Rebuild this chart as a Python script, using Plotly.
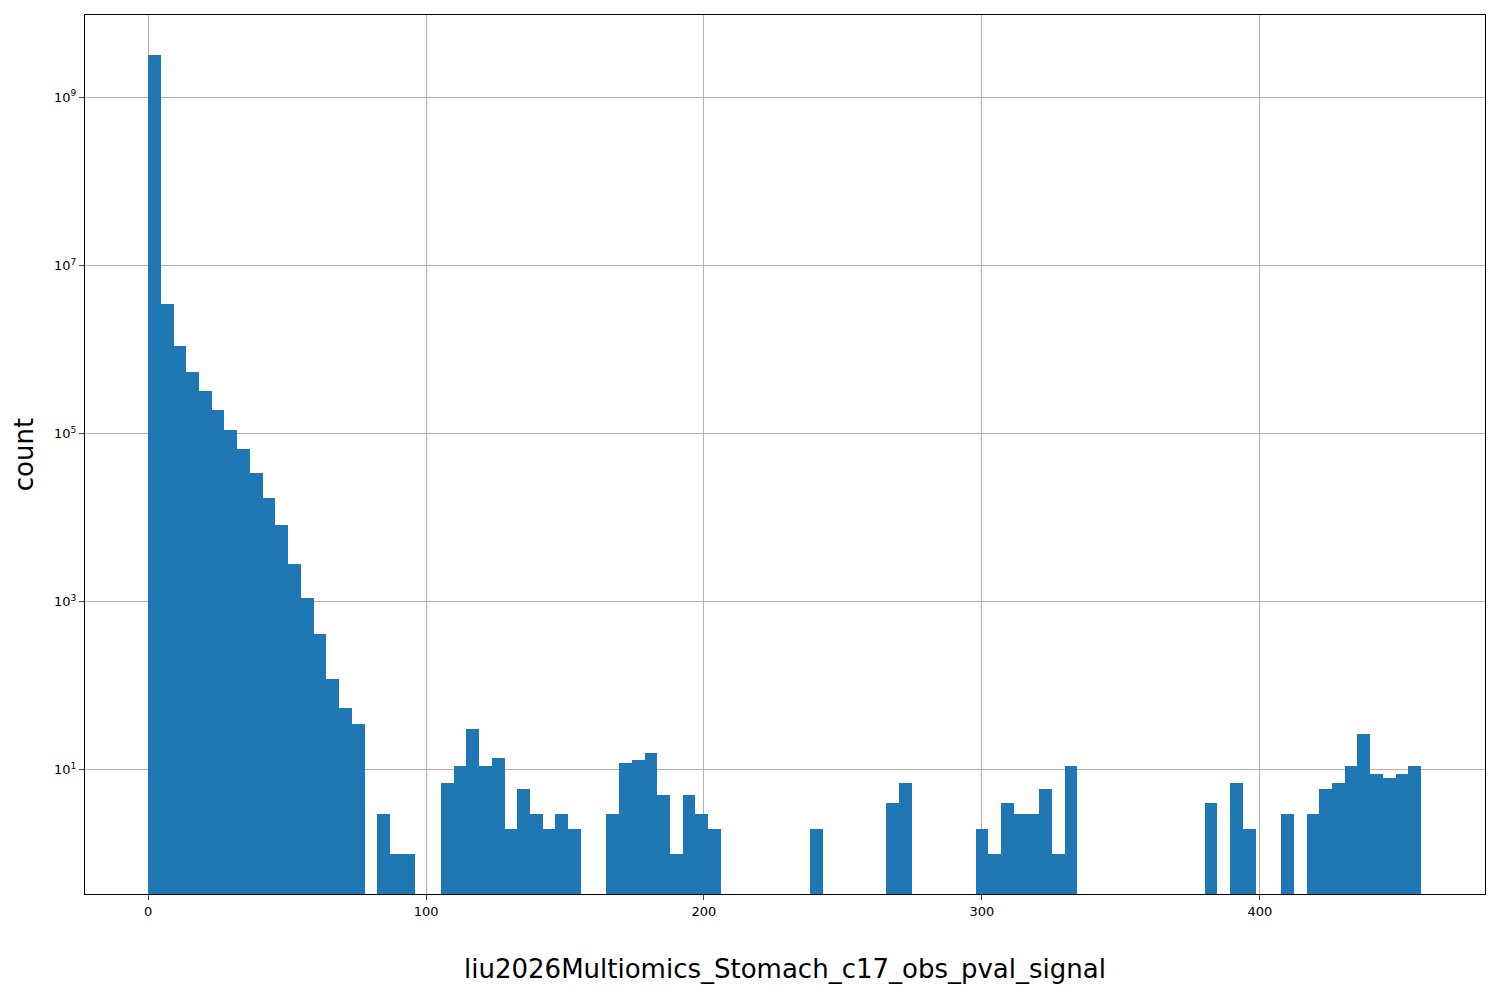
import plotly.graph_objects as go
import numpy as np

# histogram of liu2026Multiomics_Stomach_c17_obs_pval_signal, 100 bins
bin_lo = 0.0
bin_hi = 458.0
counts = [
	3.2e9, 3.5e6, 1.1e6, 5.4e5, 3.2e5, 1.9e5, 1.1e5, 6.5e4, 3.4e4, 1.7e4,
	8300, 2800, 1100, 410, 120, 55, 35, 0, 3, 1,
	1, 0, 0, 7, 11, 31, 11, 14, 2, 6,
	3, 2, 3, 2, 0, 0, 3, 12, 13, 16,
	5, 1, 5, 3, 2, 0, 0, 0, 0, 0,
	0, 0, 2, 0, 0, 0, 0, 0, 4, 7,
	0, 0, 0, 0, 0, 2, 1, 4, 3, 3,
	6, 1, 11, 0, 0, 0, 0, 0, 0, 0,
	0, 0, 0, 4, 0, 7, 2, 0, 0, 3,
	0, 3, 6, 7, 11, 27, 9, 8, 9, 11,
]

edges = np.linspace(bin_lo, bin_hi, len(counts) + 1)
centers = (edges[:-1] + edges[1:]) / 2
width = edges[1] - edges[0]
y = [c if c > 0 else None for c in counts]

fig = go.Figure()
fig.add_trace(go.Bar(x = centers, y = y, width = width, marker_color = '#1f77b4', marker_line_width = 0))

exps = [1, 3, 5, 7, 9]
fig.update_layout(
	width = 1500, height = 1000,
	paper_bgcolor = 'white', plot_bgcolor = 'white',
	margin = dict(l = 77, r = 23, t = 7, b = 114),
	showlegend = False, bargap = 0,
	font = dict(family = 'DejaVu Sans', color = 'black'),
)
fig.update_xaxes(
	range = [-22.7, 481], tickvals = [0, 100, 200, 300, 400],
	showgrid = True, gridcolor = '#b0b0b0', zeroline = False,
	showline = True, linecolor = 'black', mirror = True, ticks = 'outside',
	tickfont = dict(size = 13),
	title = dict(text = 'liu2026Multiomics_Stomach_c17_obs_pval_signal', font = dict(size = 26), standoff = 42),
)
fig.update_yaxes(
	type = 'log', range = [-0.476, 9.98],
	tickvals = [10 ** e for e in exps], ticktext = [f'10<sup>{e}</sup>' for e in exps],
	showgrid = True, gridcolor = '#b0b0b0', zeroline = False,
	showline = True, linecolor = 'black', mirror = True, ticks = 'outside',
	tickfont = dict(size = 13),
	title = dict(text = 'count', font = dict(size = 26), standoff = 12),
)
fig.write_html('out.html')
